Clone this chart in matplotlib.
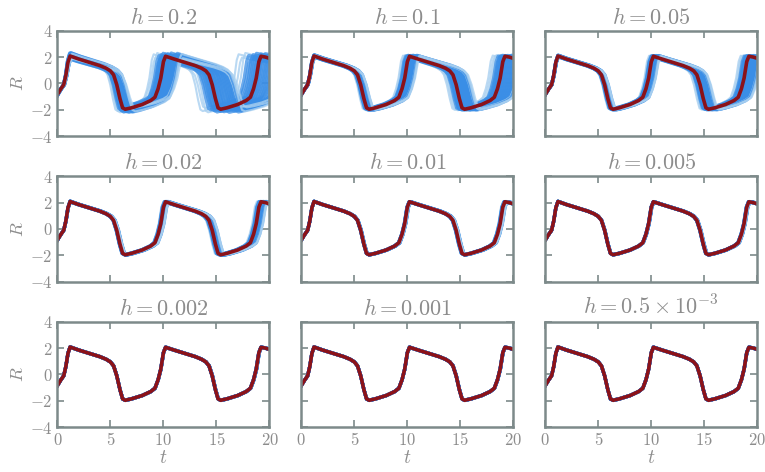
import numpy as np
import matplotlib
matplotlib.use("Agg")
import matplotlib.pyplot as plt

plt.rcParams['mathtext.fontset'] = 'cm'
plt.rcParams['font.family'] = 'serif'
plt.rcParams['font.serif'] = ['DejaVu Serif']

# mean (reference) trajectory R(t); extended past t=20 so the
# time-stretched ensemble members still reach the right edge
t_ref = [0.0, 0.3, 0.6, 0.8, 1.0, 1.2, 2.0, 3.0, 4.0, 4.6, 5.0, 5.3, 5.6, 5.9, 6.15,
         6.4, 7.0, 8.0, 8.8, 9.2, 9.5, 9.75, 10.0, 10.2, 11.0, 12.0, 13.0, 13.6,
         14.0, 14.3, 14.6, 14.9, 15.15, 15.4, 16.0, 17.0, 17.8, 18.2, 18.5, 18.75,
         19.0, 19.2, 19.6, 20.0, 21.0, 22.0, 22.6]
R_ref = [-0.85, -0.45, -0.1, 0.6, 1.6, 2.08, 1.85, 1.6, 1.35, 1.15, 0.95, 0.65,
         -0.1, -1.15, -1.85, -1.96, -1.85, -1.6, -1.3, -1.05, -0.4, 0.4, 1.65,
         2.06, 1.85, 1.6, 1.35, 1.15, 0.95, 0.65, -0.1, -1.15, -1.85, -1.96,
         -1.85, -1.6, -1.3, -1.05, -0.4, 0.4, 1.65, 2.06, 2.0, 1.9, 1.82, 1.58, 1.45]

titles = [r'$h = 0.2$', r'$h = 0.1$', r'$h = 0.05$',
          r'$h = 0.02$', r'$h = 0.01$', r'$h = 0.005$',
          r'$h = 0.002$', r'$h = 0.001$', r'$h = 0.5 \times 10^{-3}$']

# relative time-lag of the ensemble members (-1 = earliest, +1 = latest)
member_pos = [-1.0, -0.85, -0.7, -0.55, -0.45, -0.35, -0.28, -0.2, -0.14, -0.08,
              -0.03, 0.0, 0.04, 0.08, 0.13, 0.18, 0.23, 0.28, 0.33, 0.38, 0.43,
              0.48, 0.53, 0.58, 0.63, 0.68, 0.73, 0.78, 0.83, 0.88, 0.93, 1.0]
# relative amplitude wobble of each member (only visible for the coarse steps)
member_amp = [0.6, -0.4, 1.0, 0.2, -0.8, 0.5, -0.2, 0.9, -0.6, 0.3, -1.0, 0.7,
              0.0, -0.3, 0.8, -0.7, 0.4, -0.1, 1.0, -0.5, 0.2, -0.9, 0.6, 0.1,
              -0.4, 0.9, -0.2, 0.5, -0.8, 0.3, 0.7, -0.6]
member_light = [1, 1, 1, 0, 0, 0, 0, 0, 0, 0, 0, 0, 0, 0, 0, 0, 0, 0, 0, 0, 0,
                0, 0, 0, 0, 0, 0, 0, 1, 0, 1, 1]

# spread of the ensemble for each step size (early side, late side, amplitude)
spread_early = [0.11, 0.06, 0.04, 0.02, 0.009, 0.005, 0.002, 0.0015, 0.001]
spread_late = [0.16, 0.10, 0.07, 0.035, 0.013, 0.007, 0.003, 0.002, 0.001]
spread_amp = [0.12, 0.04, 0.03, 0.015, 0.01, 0.01, 0.01, 0.01, 0.01]

grey = '#7d8a8a'
text_grey = '#8c8c8c'

fig, axes = plt.subplots(3, 3, figsize=(7.65, 4.72), dpi=100)
fig.subplots_adjust(left=0.075, right=0.99, top=0.935, bottom=0.095,
                    wspace=0.15, hspace=0.38)

T = np.array(t_ref)
R = np.array(R_ref)

for i, ax in enumerate(axes.flat):
    for p, a, light in zip(member_pos, member_amp, member_light):
        d = p * (spread_late[i] if p > 0 else spread_early[i])
        Rm = R * (1 + a * spread_amp[i])
        if light:
            ax.plot(T * (1 + d), Rm, color='#a9d0f0', lw=1.5, alpha=0.8)
        else:
            ax.plot(T * (1 + d), Rm, color='#3a8ee6', lw=2.3, alpha=0.75)
    ax.plot(T, R, color='#8b1219', lw=2.6)

    ax.set_xlim(0, 20)
    ax.set_ylim(-4, 4)
    ax.set_xticks([0, 5, 10, 15, 20])
    ax.set_yticks([-4, -2, 0, 2, 4])
    ax.tick_params(direction='in', length=5, width=1.2, color=grey,
                   top=True, right=True, labelcolor=text_grey, labelsize=12)
    for s in ax.spines.values():
        s.set_color(grey)
        s.set_linewidth(1.8)
    ax.set_title(titles[i], color=text_grey, fontsize=16, pad=5)

    row, col = divmod(i, 3)
    if col == 0:
        ax.set_yticklabels(['$-4$', '$-2$', '$0$', '$2$', '$4$'])
        ax.set_ylabel('$R$', color=text_grey, fontsize=13, labelpad=2)
    else:
        ax.set_yticklabels([])
    if row == 2:
        ax.set_xticklabels(['$0$', '$5$', '$10$', '$15$', '$20$'])
        ax.set_xlabel('$t$', color=text_grey, fontsize=14, labelpad=0)
    else:
        ax.set_xticklabels([])

fig.savefig('out.png', dpi=100)
